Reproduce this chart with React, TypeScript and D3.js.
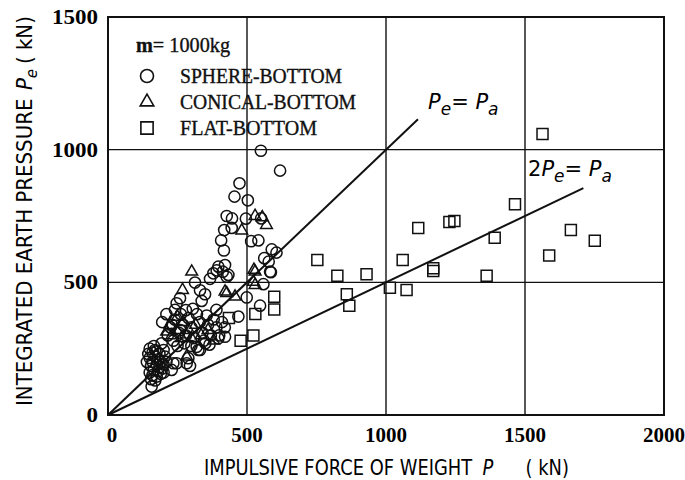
import React, { useEffect, useRef } from "react";
import * as d3 from "d3";

// impulsive force P (kN), integrated earth pressure Pe (kN)
const sphereBottom: [number, number][] = [
  [550, 996], [619, 921], [473, 873], [455, 823], [503, 809], [427, 750], [446, 741],
  [496, 740], [551, 741], [418, 697], [445, 705], [407, 658], [515, 655], [541, 658],
  [417, 620], [589, 624], [606, 612], [562, 591], [578, 578], [586, 538], [397, 559],
  [421, 565], [413, 540], [427, 521], [379, 534], [367, 513], [391, 545], [433, 528],
  [313, 499], [331, 470], [349, 455], [337, 430], [259, 440], [247, 421], [241, 396],
  [583, 540], [559, 493], [499, 443], [547, 412], [390, 396], [469, 371], [421, 295],
  [397, 289], [331, 245], [319, 257], [295, 185], [247, 195], [229, 170], [193, 270],
  [169, 245], [157, 107], [235, 195], [283, 195], [325, 245], [289, 214],
  [195, 350], [210, 380], [225, 330], [240, 360], [255, 310], [262, 380], [270, 340],
  [280, 300], [290, 365], [300, 330], [310, 290], [320, 380], [330, 350], [340, 310],
  [350, 270], [360, 340], [370, 300], [380, 360], [390, 330], [400, 300], [410, 350],
  [215, 300], [235, 280], [250, 260], [275, 270], [300, 260], [345, 280], [365, 265],
  [280, 395], [305, 400], [420, 330], [260, 320], [230, 340], [355, 375],
  [150, 250], [160, 235], [170, 220], [180, 210], [190, 200], [150, 215], [160, 200],
  [175, 190], [185, 180], [155, 185], [165, 170], [180, 165], [195, 175], [150, 160],
  [160, 150], [175, 145], [190, 155], [200, 190], [205, 220], [145, 230], [170, 130],
  [155, 135], [185, 230], [200, 245], [165, 260], [140, 200], [210, 200], [200, 160],
  [175, 240],
];

const conicalBottom: [number, number][] = [
  [529, 750], [555, 745], [570, 716], [481, 695], [301, 540], [268, 471], [525, 547],
  [523, 502], [529, 490], [427, 459], [457, 446], [421, 465], [223, 339], [211, 314],
  [247, 320], [283, 220], [250, 370], [270, 350], [290, 320], [315, 340], [335, 300],
  [360, 320], [380, 280], [230, 300], [300, 290], [265, 290], [529, 540],
];

const flatBottom: [number, number][] = [
  [1563, 1059], [1464, 794], [1116, 705], [1228, 727], [1246, 731], [753, 584],
  [825, 525], [930, 530], [859, 455], [868, 412], [1014, 480], [1074, 471],
  [1060, 584], [1170, 553], [1170, 543], [1391, 668], [1362, 525], [1665, 697],
  [1751, 657], [1587, 601], [598, 446], [598, 398], [530, 381], [477, 280],
  [523, 300], [435, 366],
];

const xTicks = [0, 500, 1000, 1500, 2000];
const yTicks = [0, 500, 1000, 1500];
const lineEq = [
  { ratio: 1, end: 1115 },
  { ratio: 0.5, end: 1710 },
];

const App = () => {
  const svgRef = useRef<SVGSVGElement>(null);

  useEffect(() => {
    const width = 685;
    const height = 480;
    const svg = d3.select(svgRef.current).attr("width", width).attr("height", height);
    svg.selectAll("*").remove();

    const x = d3.scaleLinear().domain([0, 2000]).range([108, 664]);
    const y = d3.scaleLinear().domain([0, 1500]).range([415, 17]);

    // grid
    svg.append("g")
      .selectAll("line")
      .data(xTicks.slice(1, -1))
      .enter()
      .append("line")
      .attr("x1", (d) => x(d)).attr("x2", (d) => x(d))
      .attr("y1", y(0)).attr("y2", y(1500))
      .attr("stroke", "#111").attr("stroke-width", 1.4);
    svg.append("g")
      .selectAll("line")
      .data(yTicks.slice(1, -1))
      .enter()
      .append("line")
      .attr("y1", (d) => y(d)).attr("y2", (d) => y(d))
      .attr("x1", x(0)).attr("x2", x(2000))
      .attr("stroke", "#111").attr("stroke-width", 1.4);

    svg.append("rect")
      .attr("x", x(0)).attr("y", y(1500))
      .attr("width", x(2000) - x(0)).attr("height", y(0) - y(1500))
      .attr("fill", "none").attr("stroke", "#111").attr("stroke-width", 2);

    // tick labels
    const tickFont = "'Liberation Serif', serif";
    svg.append("g")
      .selectAll("text")
      .data(xTicks)
      .enter()
      .append("text")
      .attr("x", (d) => x(d) + (d === 0 ? 4 : 0))
      .attr("y", 442)
      .attr("text-anchor", "middle")
      .attr("font-family", tickFont).attr("font-weight", "bold").attr("font-size", 21)
      .attr("textLength", (d) => String(d).length * 10.5)
      .attr("lengthAdjust", "spacingAndGlyphs")
      .text((d) => d);
    svg.append("g")
      .selectAll("text")
      .data(yTicks)
      .enter()
      .append("text")
      .attr("x", 98)
      .attr("y", (d) => y(d) + 7)
      .attr("text-anchor", "end")
      .attr("font-family", tickFont).attr("font-weight", "bold").attr("font-size", 21)
      .attr("textLength", (d) => String(d).length * 11.5)
      .attr("lengthAdjust", "spacingAndGlyphs")
      .text((d) => d);

    // axis titles: drawn at natural width, then squeezed along their baseline to fit
    const titleFont = "'DejaVu Sans', sans-serif";
    const squeeze = (sel: any, tx: number, ty: number, rot: number, target: number) => {
      const len = (sel.node() as SVGTextElement).getBBox().width || target;
      sel.attr("transform", `translate(${tx},${ty}) rotate(${rot}) scale(${target / len},1)`);
    };
    const xt = svg.append("text").attr("x", 0).attr("y", 0)
      .attr("font-family", titleFont).attr("font-size", 21);
    xt.append("tspan").text("IMPULSIVE FORCE OF WEIGHT");
    xt.append("tspan").attr("dx", 12).attr("font-style", "italic").text("P");
    xt.append("tspan").attr("dx", 38).text("( kN)");
    squeeze(xt, 204, 475, 0, 365);

    const yt = svg.append("text").attr("x", 0).attr("y", 0)
      .attr("font-family", titleFont).attr("font-size", 21);
    yt.append("tspan").text("INTEGRATED EARTH PRESSURE");
    yt.append("tspan").attr("dx", 9).attr("font-style", "italic").text("P");
    yt.append("tspan").attr("font-style", "italic").attr("font-size", 16).attr("dy", 5).text("e");
    yt.append("tspan").attr("dy", -5).attr("dx", 5).text("( kN)");
    squeeze(yt, 32, 406, -90, 390);

    // reference lines
    svg.append("g")
      .selectAll("line")
      .data(lineEq)
      .enter()
      .append("line")
      .attr("x1", x(0)).attr("y1", y(0))
      .attr("x2", (d) => x(d.end)).attr("y2", (d) => y(d.end * d.ratio))
      .attr("stroke", "#111").attr("stroke-width", 2);

    const eqFont = "'DejaVu Sans', sans-serif";
    const eq1 = svg.append("text").attr("x", 428).attr("y", 109)
      .attr("font-family", eqFont).attr("font-size", 21).attr("font-style", "italic");
    eq1.append("tspan").text("P");
    eq1.append("tspan").attr("dy", 6).attr("font-size", 17).text("e");
    eq1.append("tspan").attr("dy", -6).attr("font-style", "normal").text("= ");
    eq1.append("tspan").text("P");
    eq1.append("tspan").attr("dy", 6).attr("font-size", 17).text("a");

    const eq2 = svg.append("text").attr("x", 528).attr("y", 176)
      .attr("font-family", eqFont).attr("font-size", 21).attr("font-style", "italic");
    eq2.append("tspan").attr("font-style", "normal").text("2");
    eq2.append("tspan").text("P");
    eq2.append("tspan").attr("dy", 6).attr("font-size", 17).text("e");
    eq2.append("tspan").attr("dy", -6).attr("font-style", "normal").text("= ");
    eq2.append("tspan").text("P");
    eq2.append("tspan").attr("dy", 6).attr("font-size", 17).text("a");

    // data marks
    const marks = svg.append("g").attr("fill", "none").attr("stroke", "#111").attr("stroke-width", 1.5);
    marks.selectAll("circle.s")
      .data(sphereBottom)
      .enter()
      .append("circle")
      .attr("class", "s")
      .attr("cx", (d) => x(d[0])).attr("cy", (d) => y(d[1]))
      .attr("r", 5.6);
    const tri = d3.symbol().type(d3.symbolTriangle).size(60);
    marks.selectAll("path.c")
      .data(conicalBottom)
      .enter()
      .append("path")
      .attr("class", "c")
      .attr("transform", (d) => `translate(${x(d[0])},${y(d[1])})`)
      .attr("d", tri);
    const sq = d3.symbol().type(d3.symbolSquare).size(121);
    marks.selectAll("path.f")
      .data(flatBottom)
      .enter()
      .append("path")
      .attr("class", "f")
      .attr("transform", (d) => `translate(${x(d[0])},${y(d[1])})`)
      .attr("d", sq);

    // legend
    const legFont = "'Liberation Serif', serif";
    const leg = svg.append("g").attr("font-family", legFont).attr("font-size", 20)
      .attr("fill", "#111").attr("stroke", "#111").attr("stroke-width", 0.35);
    leg.append("text").attr("x", 136).attr("y", 52)
      .attr("textLength", 94).attr("lengthAdjust", "spacingAndGlyphs")
      .html("<tspan font-weight='bold'>m</tspan>= 1000kg");
    const legItems = [
      { label: "SPHERE-BOTTOM", y: 76, len: 162, shape: "circle" },
      { label: "CONICAL-BOTTOM", y: 102, len: 176, shape: "tri" },
      { label: "FLAT-BOTTOM", y: 128, len: 137, shape: "sq" },
    ];
    legItems.forEach((it) => {
      if (it.shape === "circle") {
        leg.append("circle").attr("cx", 147).attr("cy", it.y).attr("r", 6.5)
          .attr("fill", "none").attr("stroke", "#111").attr("stroke-width", 1.6);
      } else {
        leg.append("path")
          .attr("transform", `translate(147,${it.y})`)
          .attr("d", d3.symbol().type(it.shape === "tri" ? d3.symbolTriangle : d3.symbolSquare)
            .size(it.shape === "tri" ? 80 : 150)())
          .attr("fill", "none").attr("stroke", "#111").attr("stroke-width", 1.6);
      }
      leg.append("text").attr("x", 180).attr("y", it.y + 7)
        .attr("textLength", it.len).attr("lengthAdjust", "spacingAndGlyphs")
        .text(it.label);
    });
  }, []);

  return <svg ref={svgRef} style={{ position: "absolute", left: 0, top: 0, background: "#fff" }}></svg>;
};

export default App;
